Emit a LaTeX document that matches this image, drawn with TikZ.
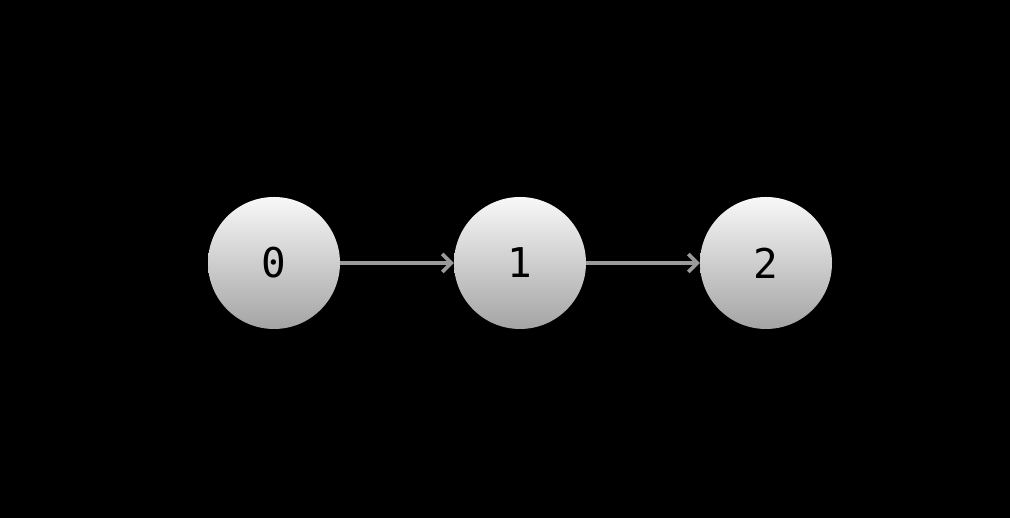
\documentclass[tikz,border=0pt]{standalone}
\usepackage{fontspec}
\setmonofont{DejaVu Sans Mono}
\usetikzlibrary{arrows.meta}
\definecolor{arrowgray}{HTML}{9A9A9A}
\definecolor{topgray}{HTML}{F8F8F8}
\definecolor{botgray}{HTML}{A4A4A4}
\begin{document}
\begin{tikzpicture}[x=1pt,y=1pt,
  numnode/.style={circle,minimum size=132pt,inner sep=0pt,top color=topgray,bottom color=botgray,font=\ttfamily\fontsize{41}{41}\selectfont,text=black},
  link/.style={draw=arrowgray,line width=3.6pt,-{Straight Barb[length=9pt,width=18pt,line width=3.6pt]}}]
\fill[black] (0,0) rectangle (1010,518);
\useasboundingbox (0,0) rectangle (1010,518);
\node[numnode] (n0) at (274,255) {0};
\node[numnode] (n1) at (520,255) {1};
\node[numnode] (n2) at (766,255) {2};
\draw[link] (n0) -- (n1);
\draw[link] (n1) -- (n2);
\end{tikzpicture}
\end{document}
